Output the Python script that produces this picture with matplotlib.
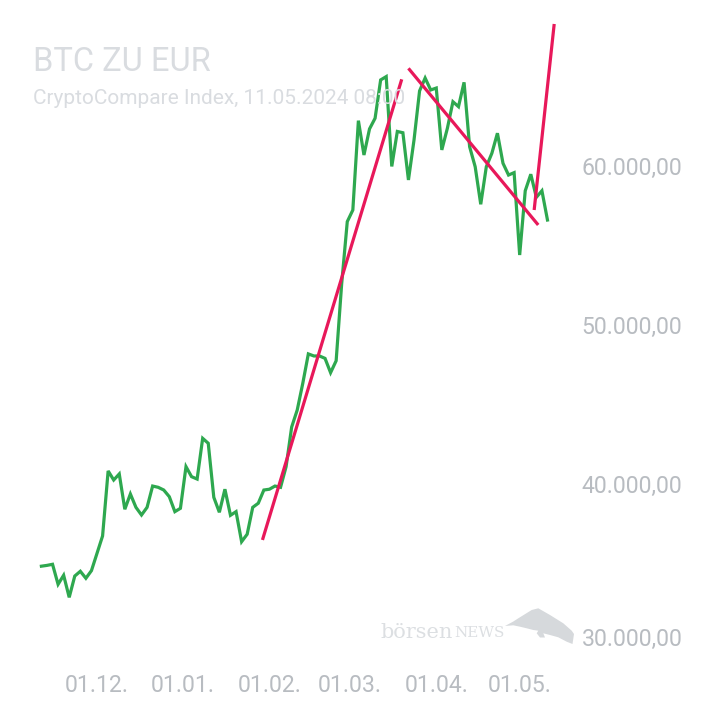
import matplotlib
matplotlib.use("Agg")
import matplotlib.pyplot as plt
import matplotlib.transforms as mtransforms
from matplotlib.patches import Polygon
import pandas as pd

# ---- data ----
dates = pd.date_range("2023-11-11", "2024-05-11", freq="2D")
prices = [
    34800, 34850, 34920, 33660, 34230, 32840, 34180, 34480, 34040, 34520,
    35610, 36700, 40790, 40220, 40600, 38380, 39340, 38500, 38020, 38500,
    39840, 39760, 39590, 39170, 38230, 38440, 41060, 40430, 40280, 42840,
    42530, 39130, 38190, 39640, 38000, 38230, 36340, 36810, 38500, 38760,
    39590, 39640, 39840, 39760, 41060, 43550, 44620, 46300, 48150, 48020,
    48020, 47870, 46970, 47720, 52590, 56470, 57200, 62820, 60660, 62300,
    62970, 65380, 65590, 59940, 62140, 62060, 59090, 61600, 64690, 65500,
    64750, 64870, 60980, 62340, 64010, 63700, 65230, 61180, 59920, 57560,
    59920, 60770, 62030, 60140, 59400, 59550, 54370, 58410, 59450, 58000,
    58410, 56570,
]

trend_starts = ["2024-01-29 12:00", "2024-03-22 00:00", "2024-05-06 05:00"]
trend_ends = ["2024-03-19 14:00", "2024-05-07 16:00", "2024-05-13 10:00"]
trend_start_vals = [36450, 66110, 57200]
trend_end_vals = [65420, 56260, 68900]

ytick_vals = [30000, 40000, 50000, 60000]
ytick_labels = ["30.000,00", "40.000,00", "50.000,00", "60.000,00"]
xtick_dates = ["2023-12-01", "2024-01-01", "2024-02-01", "2024-03-01", "2024-04-01", "2024-05-01"]
xtick_labels = ["01.12.", "01.01.", "01.02.", "01.03.", "01.04.", "01.05."]

title = "BTC ZU EUR"
subtitle = "CryptoCompare Index, 11.05.2024 08:00"

# ---- style ----
plt.rcParams["font.family"] = ["Roboto", "DejaVu Sans"]
GREEN = "#2ea84f"
RED = "#e8185a"
TICK = "#b8bcc1"
TITLE = "#d9dce0"
MARK = "#dcdfe2"

fig = plt.figure(figsize=(7.2, 7.2), dpi=100)
fig.patch.set_facecolor("white")
ax = fig.add_axes([30 / 720, 1 - 660 / 720, (565 - 30) / 720, (660 - 20) / 720])
ax.set_facecolor("none")

ax.plot(dates, prices, color=GREEN, lw=2.3, solid_joinstyle="miter", zorder=3)
for s, e, sv, ev in zip(trend_starts, trend_ends, trend_start_vals, trend_end_vals):
    ax.plot([pd.Timestamp(s), pd.Timestamp(e)], [sv, ev], color=RED, lw=2.3,
            solid_capstyle="butt", zorder=4)

dec1 = pd.Timestamp("2023-12-01")
ax.set_xlim(dec1 + pd.Timedelta(days=-24.1), dec1 + pd.Timedelta(days=168.3))
ax.set_ylim(28900, 69150)

for sp in ax.spines.values():
    sp.set_visible(False)

ax.set_xticks([pd.Timestamp(d) for d in xtick_dates])
ax.set_xticklabels(xtick_labels)
ax.yaxis.tick_right()
ax.set_yticks(ytick_vals)
ax.set_yticklabels(ytick_labels)
ax.tick_params(axis="both", length=0, colors=TICK, labelsize=16.6)
ax.tick_params(axis="x", pad=10)
ax.tick_params(axis="y", pad=12)
for lbl in ax.get_yticklabels():
    lbl.set_horizontalalignment("left")
# lowest label is nudged up in the reference
lowest = ax.get_yticklabels()[0]
lowest.set_transform(lowest.get_transform() +
                     mtransforms.ScaledTranslation(0, 6 / 100, fig.dpi_scale_trans))

fig.text(33 / 720, 1 - 62 / 720, title, color=TITLE, fontsize=23.5, va="center", ha="left")
fig.text(33 / 720, 1 - 98 / 720, subtitle, color=TITLE, fontsize=15, va="center", ha="left")

# watermark (text + bull silhouette, figure pixel coordinates)
fig.text(380 / 720, 1 - 632 / 720, "börsen", family="DejaVu Serif", color=MARK,
         fontsize=15, va="center", ha="left", zorder=0)
fig.text(454 / 720, 1 - 633 / 720, "NEWS", family="DejaVu Serif", color=MARK,
         fontsize=11, va="center", ha="left", zorder=0)
bull_px = [(505, 626), (513, 621.7), (518.3, 618.3), (531.7, 610), (538.3, 608.3),
           (550, 615), (563.3, 623.3), (571.7, 630.7), (574, 634), (572.5, 644),
           (566.7, 641.7), (558.3, 637.3), (550, 635), (543.3, 633.3), (545, 637.5),
           (540, 637.5), (536.7, 633.3), (538.3, 630.7), (533.3, 630), (526.7, 628.3),
           (520, 626.7), (513.3, 625.3)]
bull = Polygon([(x / 720, 1 - y / 720) for x, y in bull_px], closed=True,
               transform=fig.transFigure, facecolor="#d6d9dc", edgecolor="none", zorder=0)
fig.patches.append(bull)

fig.savefig("out.png", dpi=100, facecolor="white")
